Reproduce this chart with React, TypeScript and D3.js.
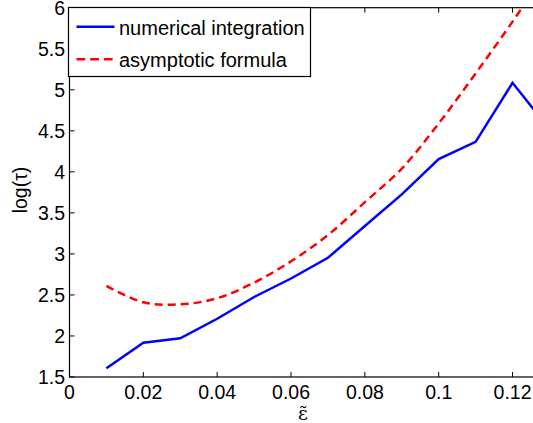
import React from "react";
import * as d3 from "d3";

const xValues = [0.01, 0.02, 0.03, 0.04, 0.05, 0.06, 0.07, 0.08, 0.09, 0.1, 0.11, 0.12, 0.13];
const numerical = [1.606, 1.918, 1.971, 2.21, 2.475, 2.7, 2.953, 3.34, 3.725, 4.155, 4.366, 5.085, 4.52];
const asymptotic = [2.61, 2.41, 2.385, 2.46, 2.65, 2.91, 3.23, 3.63, 4.04, 4.59, 5.2, 5.83, 6.5];
const xTicks = [0, 0.02, 0.04, 0.06, 0.08, 0.1, 0.12];
const yTicks = [1.5, 2, 2.5, 3, 3.5, 4, 4.5, 5, 5.5, 6];
const seriesNames = ["numerical integration", "asymptotic formula"];

const W = 533;
const H = 423;
const FONT = "'Liberation Sans', Arial, Helvetica, sans-serif";
const FS = 19.5;
const LFS = 20;

export default function App() {
  const left = 69.5;
  const top = 7.7;
  const bottom = 377;
  const x = d3.scaleLinear().domain([0, 0.127]).range([left, left + 0.127 * 3692]);
  const y = d3.scaleLinear().domain([1.5, 6]).range([bottom, top]);
  const right = x(0.127);

  const blueLine = d3
    .line<number>()
    .x((_, i) => x(xValues[i]))
    .y((d) => y(d))(numerical) as string;
  const redLine = d3
    .line<number>()
    .x((_, i) => x(xValues[i]))
    .y((d) => y(d))
    .curve(d3.curveCatmullRom)(asymptotic) as string;

  const tl = 5;
  const fmt = (v: number) => (v === 0 ? "0" : String(v));

  return (
    <div style={{ position: "absolute", left: 0, top: 0 }}>
      <svg width={W} height={H} style={{ display: "block", background: "#fff" }}>
        <defs>
          <clipPath id="plotclip">
            <rect x={left} y={top} width={right - left} height={bottom - top} />
          </clipPath>
        </defs>
        <rect x={0} y={0} width={W} height={H} fill="#fff" />
        {xTicks.map((t) => (
          <g key={"xt" + t}>
            <line x1={x(t)} x2={x(t)} y1={bottom} y2={bottom - tl} stroke="#000" strokeWidth={1} />
            <line x1={x(t)} x2={x(t)} y1={top} y2={top + tl} stroke="#000" strokeWidth={1} />
            <text x={x(t)} y={398.5} textAnchor="middle" fontFamily={FONT} fontSize={FS} fill="#000">
              {fmt(t)}
            </text>
          </g>
        ))}
        {yTicks.map((t) => (
          <g key={"yt" + t}>
            <line x1={left} x2={left + tl} y1={y(t)} y2={y(t)} stroke="#000" strokeWidth={1} />
            <line x1={right} x2={right - tl} y1={y(t)} y2={y(t)} stroke="#000" strokeWidth={1} />
            <text x={65} y={y(t) + 7} textAnchor="end" fontFamily={FONT} fontSize={FS} fill="#000">
              {fmt(t)}
            </text>
          </g>
        ))}
        <g clipPath="url(#plotclip)">
          <path d={redLine} fill="none" stroke="#ff0000" strokeWidth={2.5} strokeDasharray="8,5" />
          <path d={blueLine} fill="none" stroke="#0000ff" strokeWidth={2.5} />
        </g>
        <rect
          x={left}
          y={top}
          width={right - left}
          height={bottom - top}
          fill="none"
          stroke="#000"
          strokeWidth={1.2}
        />
        <text
          transform={`translate(27,190) rotate(-90)`}
          textAnchor="middle"
          fontFamily={FONT}
          fontSize={FS}
          fill="#000"
        >
          log(τ)
        </text>
        <text x={303} y={419.5} textAnchor="middle" fontFamily="'DejaVu Serif', serif" fontSize={19} fill="#000">
          ε̃
        </text>
        <rect x={68.5} y={7.5} width={242} height={69} fill="#fff" stroke="#000" strokeWidth={1.2} />
        <line x1={76.5} x2={114.5} y1={26.7} y2={26.7} stroke="#0000ff" strokeWidth={2.5} />
        <line x1={76.5} x2={114.5} y1={59.3} y2={59.3} stroke="#ff0000" strokeWidth={2.5} strokeDasharray="8.7,5" />
        <text x={119} y={34.5} fontFamily={FONT} fontSize={LFS} fill="#000">
          {seriesNames[0]}
        </text>
        <text x={119} y={67} fontFamily={FONT} fontSize={LFS} fill="#000">
          {seriesNames[1]}
        </text>
      </svg>
    </div>
  );
}
